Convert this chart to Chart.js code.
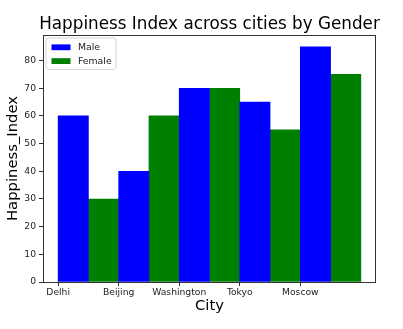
<!DOCTYPE html>
<html>
<head>
<meta charset="utf-8">
<title>Happiness Index across cities by Gender</title>
<script src="https://cdn.jsdelivr.net/npm/chart.js@4.4.1/dist/chart.umd.min.js"></script>
<style>
  html, body { margin: 0; padding: 0; background: #ffffff; }
  #chart { display: block; }
</style>
</head>
<body>
<canvas id="chart" width="403" height="329"></canvas>
<script>
// Survey data: happiness index per city, split by gender
const cities = ['Delhi', 'Beijing', 'Washington', 'Tokyo', 'Moscow'];
const male = [60, 40, 70, 65, 85];
const female = [30, 60, 70, 55, 75];
const yTicks = [0, 10, 20, 30, 40, 50, 60, 70, 80];
const chartTitle = 'Happiness Index across cities by Gender';

// Each city gets two adjacent bars of half a unit, starting at the city tick
const barWidth = 0.5;
const maleColor = '#0000ff';
const femaleColor = '#008000';
const axisColor = '#333333';
const textColor = '#222222';

Chart.defaults.font.family = "'DejaVu Sans', sans-serif";
Chart.defaults.color = textColor;

const maxValue = Math.max(...male, ...female);
const lastEdge = cities.length - 1 + 2 * barWidth;

// Title centred over the plot, box around the plotting area,
// and a framed legend in its upper-left corner
const framePlugin = {
  id: 'frameAndLegend',
  afterDatasetsDraw(chart) {
    const { ctx, chartArea: a } = chart;
    ctx.save();
    ctx.strokeStyle = axisColor;
    ctx.lineWidth = 1;
    ctx.strokeRect(a.left + 0.5, a.top + 0.5, a.right - a.left - 1, a.bottom - a.top);

    ctx.fillStyle = '#000000';
    ctx.font = "16.8px 'DejaVu Sans'";
    ctx.textAlign = 'center';
    ctx.textBaseline = 'alphabetic';
    ctx.fillText(chartTitle, (a.left + a.right) / 2, a.top - 5.7);

    // legend frame
    const fx = a.left + 3, fy = a.top + 3, fw = 70, fh = 31.5, r = 2.5;
    ctx.beginPath();
    ctx.moveTo(fx + r, fy);
    ctx.arcTo(fx + fw, fy, fx + fw, fy + fh, r);
    ctx.arcTo(fx + fw, fy + fh, fx, fy + fh, r);
    ctx.arcTo(fx, fy + fh, fx, fy, r);
    ctx.arcTo(fx, fy, fx + fw, fy, r);
    ctx.closePath();
    ctx.fillStyle = 'rgba(255,255,255,0.85)';
    ctx.fill();
    ctx.strokeStyle = '#d4d4d4';
    ctx.stroke();

    ctx.font = "9.3px 'DejaVu Sans'";
    ctx.textBaseline = 'middle';
    ctx.textAlign = 'left';
    chart.data.datasets.forEach((ds, i) => {
      const cy = a.top + 12.3 + i * 13.8;
      ctx.fillStyle = ds.backgroundColor;
      ctx.fillRect(a.left + 8.5, cy - 2.9, 19, 5.8);
      ctx.fillStyle = textColor;
      ctx.fillText(ds.label, a.left + 35, cy);
    });
    ctx.restore();
  }
};

const chart = new Chart(document.getElementById('chart'), {
  type: 'bar',
  data: {
    datasets: [
      {
        label: 'Male',
        data: cities.map((c, i) => ({ x: i + barWidth / 2, y: male[i] })),
        backgroundColor: maleColor,
        stack: 'city'
      },
      {
        label: 'Female',
        data: cities.map((c, i) => ({ x: i + barWidth * 1.5, y: female[i] })),
        backgroundColor: femaleColor,
        stack: 'city'
      }
    ]
  },
  options: {
    responsive: false,
    devicePixelRatio: 1,
    animation: false,
    events: [],
    barPercentage: 1,
    categoryPercentage: 1,
    layout: { padding: { top: 35, right: 27, bottom: 0, left: 0 } },
    plugins: {
      legend: { display: false },
      tooltip: { enabled: false },
      title: { display: false }
    },
    scales: {
      x: {
        type: 'linear',
        stacked: true,
        offset: false,
        min: -0.05 * lastEdge,
        max: lastEdge * 1.05,
        afterBuildTicks(scale) {
          scale.ticks = cities.map((c, i) => ({ value: i }));
        },
        afterFit(scale) { scale.height = 47; },
        ticks: {
          autoSkip: false,
          maxRotation: 0,
          padding: 1,
          font: { size: 9.2 },
          callback: (v) => cities[v]
        },
        grid: {
          offset: false,
          drawOnChartArea: false,
          drawTicks: true,
          tickLength: 4,
          color: axisColor
        },
        border: { display: false },
        title: {
          display: true,
          text: 'City',
          color: '#000000',
          font: { size: 14.8 },
          padding: { top: 0, bottom: 13.6 }
        }
      },
      y: {
        stacked: false,
        min: 0,
        max: maxValue * 1.05,
        afterBuildTicks(scale) {
          scale.ticks = yTicks.map(v => ({ value: v }));
        },
        afterFit(scale) { scale.width = 43; },
        ticks: {
          padding: 3,
          font: { size: 9.2 }
        },
        grid: {
          drawOnChartArea: false,
          drawTicks: true,
          tickLength: 4,
          color: axisColor
        },
        border: { display: false },
        title: {
          display: true,
          text: 'Happiness_Index',
          color: '#000000',
          font: { size: 14.8 },
          padding: { top: 4.5, bottom: 0 }
        }
      }
    }
  },
  plugins: [framePlugin]
});
</script>
</body>
</html>
